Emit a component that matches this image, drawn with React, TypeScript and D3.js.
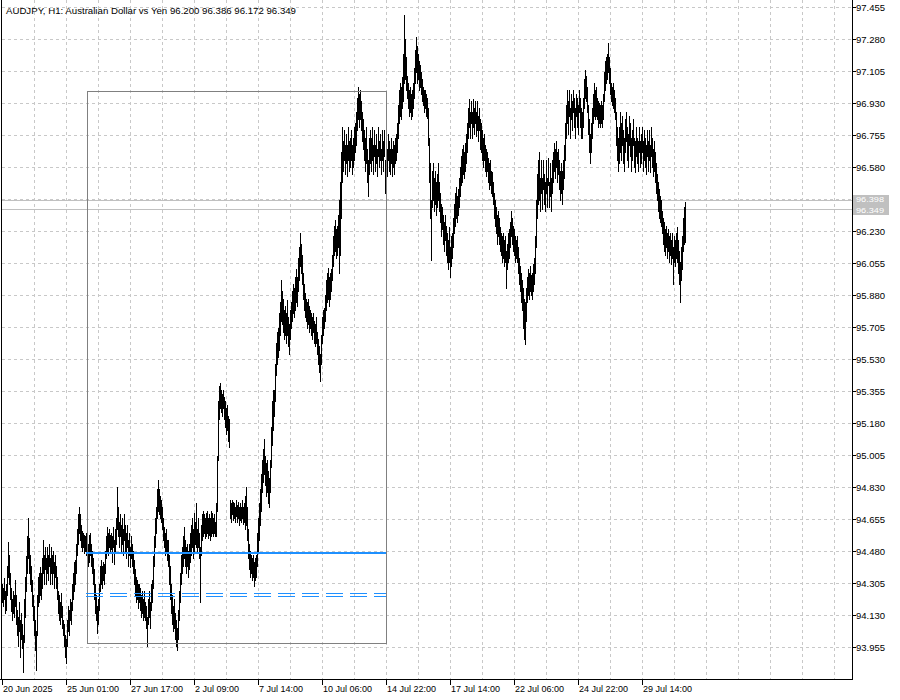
import React from "react";
import * as d3 from "d3";

// AUDJPY H1 bars, one per hour, left to right
const lows: number[] = [
94.20,94.18,94.22,94.14,94.16,94.24,94.34,94.30,94.22,94.15,
94.10,94.14,94.12,94.18,94.08,94.02,93.96,94.04,93.90,94.00,
93.95,93.82,93.98,94.12,94.26,94.36,94.44,94.36,94.30,94.26,
94.18,94.10,94.02,93.94,93.83,94.02,94.18,94.20,94.24,94.22,
94.28,94.36,94.30,94.38,94.30,94.36,94.32,94.40,94.30,94.36,
94.30,94.36,94.28,94.34,94.28,94.22,94.14,94.10,94.08,94.12,
94.06,94.02,93.96,93.90,93.87,93.96,94.04,94.02,94.10,94.08,
94.16,94.22,94.26,94.30,94.36,94.46,94.52,94.58,94.54,94.50,
94.48,94.50,94.47,94.48,94.46,94.44,94.40,94.42,94.46,94.40,
94.36,94.30,94.22,94.14,94.10,94.03,94.08,94.16,94.26,94.30,
94.28,94.32,94.30,94.36,94.44,94.48,94.46,94.50,94.47,94.49,
94.42,94.50,94.41,94.48,94.52,94.60,94.56,94.50,94.56,94.48,
94.52,94.46,94.54,94.48,94.44,94.50,94.40,94.46,94.39,94.44,
94.40,94.36,94.30,94.24,94.20,94.22,94.17,94.20,94.16,94.12,
94.14,94.10,94.12,94.10,94.06,93.96,94.08,94.12,94.06,94.16,
94.20,94.28,94.40,94.50,94.58,94.66,94.70,94.68,94.66,94.64,
94.60,94.54,94.50,94.46,94.48,94.43,94.40,94.30,94.22,94.14,
94.08,94.04,94.06,94.00,93.96,93.94,94.00,94.10,94.20,94.30,
94.36,94.40,94.44,94.40,94.36,94.40,94.34,94.38,94.42,94.46,
94.50,94.44,94.48,94.52,94.50,94.48,94.50,94.44,94.20,94.46,
94.54,94.56,94.58,94.55,94.56,94.58,94.55,94.57,94.54,94.56,
94.58,94.56,94.58,94.56,94.56,94.70,94.98,95.20,95.26,95.24,
95.22,95.26,95.20,95.16,95.12,95.14,95.08,95.05,94.66,94.64,
94.68,94.65,94.66,94.64,94.67,94.64,94.66,94.62,94.65,94.64,
94.66,94.63,94.64,94.60,94.62,94.54,94.44,94.38,94.34,94.36,
94.32,94.34,94.29,94.32,94.34,94.40,94.48,94.54,94.62,94.70,
94.80,94.86,94.90,94.84,94.78,94.80,94.74,94.72,94.80,94.94,
95.06,95.14,95.22,95.30,95.44,95.50,95.54,95.58,95.66,95.74,
95.72,95.68,95.64,95.66,95.62,95.66,95.60,95.56,95.64,95.70,
95.74,95.78,95.76,95.80,95.84,95.82,95.90,95.96,96.04,96.00,
95.94,95.86,95.80,95.76,95.74,95.70,95.72,95.68,95.70,95.66,
95.64,95.68,95.62,95.60,95.62,95.56,95.50,95.46,95.41,95.50,
95.62,95.66,95.70,95.74,95.80,95.84,95.86,95.82,95.86,95.90,
95.96,96.04,96.10,96.12,96.08,96.10,96.14,96.00,96.10,96.30,
96.50,96.56,96.62,96.54,96.60,96.53,96.62,96.56,96.58,96.62,
96.54,96.58,96.62,96.66,96.70,96.78,96.84,96.80,96.84,96.78,
96.72,96.68,96.62,96.56,96.60,96.50,96.42,96.54,96.60,96.56,
96.62,96.54,96.64,96.56,96.60,96.53,96.64,96.58,96.62,96.54,
96.62,96.56,96.64,96.44,96.60,96.53,96.62,96.56,96.54,96.60,
96.53,96.58,96.54,96.60,96.62,96.66,96.74,96.82,96.86,96.84,
96.90,96.94,97.04,97.06,97.00,96.96,96.90,96.86,96.88,96.84,
96.86,96.90,96.96,97.04,97.10,97.04,97.06,97.00,97.02,96.98,
96.94,96.92,96.88,96.90,96.86,96.85,96.70,96.50,96.30,96.07,
96.36,96.40,96.34,96.38,96.32,96.36,96.40,96.34,96.28,96.20,
96.24,96.16,96.12,96.18,96.10,96.06,96.02,96.06,95.98,96.04,
96.08,96.14,96.22,96.26,96.30,96.28,96.32,96.36,96.42,96.48,
96.50,96.54,96.52,96.56,96.60,96.66,96.74,96.80,96.74,96.82,
96.74,96.80,96.76,96.82,96.75,96.78,96.72,96.78,96.68,96.66,
96.62,96.58,96.62,96.56,96.53,96.56,96.50,96.46,96.48,96.44,
96.42,96.38,96.30,96.26,96.22,96.16,96.20,96.16,96.12,96.10,
96.06,96.08,96.04,96.06,95.92,96.02,96.06,96.08,96.14,96.20,
96.16,96.12,96.10,96.06,96.08,96.06,96.00,95.94,95.90,95.84,
95.80,95.70,95.64,95.61,95.74,95.84,95.88,95.86,95.90,95.88,
95.86,95.90,95.94,96.00,96.14,96.30,96.38,96.40,96.34,96.44,
96.35,96.46,96.38,96.34,96.44,96.36,96.48,96.36,96.42,96.34,
96.44,96.50,96.56,96.52,96.58,96.50,96.54,96.46,96.40,96.44,
96.38,96.46,96.52,96.62,96.74,96.82,96.76,96.86,96.74,96.84,
96.78,96.88,96.80,96.74,96.86,96.80,96.76,96.88,96.80,96.74,
96.74,96.80,96.90,96.96,96.94,96.88,96.76,96.66,96.60,96.66,
96.74,96.82,96.86,96.84,96.86,96.84,96.80,96.82,96.80,96.82,
96.80,96.84,96.94,97.00,97.04,97.06,97.10,97.04,96.98,96.94,
96.92,96.90,96.88,96.84,96.70,96.62,96.56,96.60,96.66,96.62,
96.70,96.60,96.56,96.66,96.72,96.62,96.58,96.70,96.64,96.56,
96.62,96.70,96.58,96.55,96.64,96.60,96.56,96.66,96.58,96.60,
96.66,96.56,96.62,96.58,96.54,96.64,96.56,96.62,96.55,96.64,
96.58,96.53,96.56,96.50,96.44,96.40,96.34,96.30,96.28,96.26,
96.22,96.16,96.12,96.10,96.14,96.08,96.12,96.06,96.10,96.05,
96.08,95.94,96.06,96.04,96.08,96.06,96.00,95.94,95.84,95.96,
96.02,96.12,96.16,96.172
];

const highs: number[] = [
94.30,94.28,94.33,94.26,94.30,94.40,94.53,94.46,94.36,94.28,
94.22,94.26,94.24,94.32,94.24,94.16,94.12,94.20,94.10,94.14,
94.08,94.02,94.22,94.34,94.45,94.56,94.66,94.55,94.46,94.40,
94.32,94.24,94.18,94.10,94.04,94.24,94.34,94.36,94.39,94.36,
94.44,94.54,94.46,94.50,94.44,94.50,94.46,94.52,94.44,94.50,
94.46,94.48,94.42,94.46,94.40,94.34,94.26,94.24,94.20,94.25,
94.18,94.10,94.08,94.02,94.00,94.10,94.18,94.16,94.22,94.20,
94.30,94.36,94.42,94.43,94.52,94.60,94.68,94.72,94.68,94.62,
94.59,94.58,94.57,94.56,94.58,94.55,94.52,94.57,94.58,94.52,
94.48,94.44,94.38,94.30,94.24,94.18,94.22,94.30,94.40,94.43,
94.40,94.42,94.41,94.48,94.56,94.61,94.58,94.60,94.57,94.58,
94.56,94.61,94.54,94.60,94.66,94.83,94.72,94.64,94.68,94.62,
94.66,94.60,94.68,94.62,94.58,94.62,94.54,94.58,94.50,94.56,
94.52,94.48,94.43,94.38,94.34,94.32,94.30,94.30,94.28,94.24,
94.26,94.22,94.26,94.20,94.18,94.12,94.22,94.26,94.20,94.30,
94.32,94.45,94.56,94.66,94.72,94.82,94.87,94.82,94.78,94.76,
94.72,94.66,94.61,94.58,94.60,94.54,94.54,94.46,94.40,94.30,
94.24,94.18,94.22,94.14,94.10,94.06,94.16,94.26,94.36,94.46,
94.50,94.56,94.61,94.54,94.50,94.52,94.48,94.52,94.58,94.62,
94.66,94.60,94.69,94.64,94.74,94.60,94.66,94.58,94.50,94.62,
94.68,94.70,94.68,94.66,94.69,94.70,94.66,94.68,94.66,94.70,
94.69,94.66,94.68,94.64,94.74,95.00,95.30,95.38,95.40,95.36,
95.34,95.36,95.32,95.30,95.26,95.28,95.22,95.20,94.76,94.74,
94.76,94.75,94.74,94.72,94.76,94.73,94.75,94.72,94.74,94.72,
94.76,94.72,94.74,94.78,94.83,94.72,94.60,94.52,94.48,94.46,
94.44,94.46,94.42,94.44,94.46,94.58,94.66,94.74,94.82,94.90,
94.98,95.04,95.09,95.00,94.96,94.98,94.92,94.88,94.98,95.16,
95.30,95.36,95.36,95.50,95.62,95.68,95.70,95.78,95.84,95.96,
95.90,95.86,95.80,95.82,95.78,95.85,95.76,95.72,95.80,95.84,
95.90,95.94,95.92,95.98,96.02,95.98,96.08,96.14,96.22,96.16,
96.10,96.00,95.94,95.89,95.86,95.84,95.86,95.82,95.80,95.78,
95.76,95.78,95.74,95.72,95.76,95.68,95.64,95.60,95.56,95.66,
95.76,95.80,95.81,95.88,95.96,96.00,96.03,95.98,96.00,96.02,
96.10,96.20,96.26,96.29,96.24,96.26,96.32,96.40,96.50,96.66,
96.80,96.72,96.78,96.70,96.76,96.70,96.80,96.72,96.74,96.78,
96.70,96.74,96.80,96.82,96.88,96.96,97.02,96.98,97.00,96.94,
96.88,96.84,96.78,96.74,96.80,96.68,96.62,96.74,96.78,96.74,
96.80,96.70,96.78,96.70,96.76,96.68,96.80,96.72,96.76,96.68,
96.78,96.72,96.78,96.62,96.74,96.68,96.76,96.72,96.68,96.74,
96.68,96.72,96.70,96.74,96.76,96.82,96.92,97.00,97.04,97.02,
97.07,97.20,97.41,97.28,97.18,97.08,97.04,97.00,97.02,96.98,
97.00,97.04,97.12,97.22,97.29,97.24,97.20,97.16,97.14,97.10,
97.06,97.02,97.00,97.00,96.98,96.96,96.90,96.74,96.60,96.40,
96.56,96.60,96.52,96.56,96.50,96.54,96.60,96.50,96.44,96.38,
96.36,96.32,96.28,96.32,96.26,96.22,96.18,96.25,96.14,96.20,
96.22,96.30,96.38,96.44,96.47,96.42,96.46,96.52,96.58,96.64,
96.68,96.70,96.66,96.71,96.76,96.82,96.90,96.95,96.88,96.94,
96.88,96.95,96.90,96.94,96.88,96.94,96.86,96.90,96.84,96.82,
96.78,96.74,96.76,96.70,96.68,96.66,96.63,96.60,96.62,96.56,
96.55,96.50,96.44,96.40,96.36,96.32,96.34,96.30,96.25,96.22,
96.20,96.22,96.18,96.20,96.12,96.16,96.22,96.24,96.28,96.34,
96.30,96.26,96.24,96.20,96.18,96.20,96.14,96.08,96.04,96.00,
95.96,95.92,95.86,95.84,95.92,95.98,96.02,96.00,96.04,95.99,
96.00,96.05,96.08,96.20,96.40,96.54,96.62,96.66,96.52,96.62,
96.52,96.62,96.54,96.50,96.62,96.52,96.63,96.50,96.60,96.52,
96.62,96.66,96.71,96.68,96.72,96.66,96.68,96.62,96.56,96.60,
96.56,96.62,96.70,96.82,96.92,97.00,96.94,97.00,96.90,96.98,
96.94,97.00,96.96,96.90,96.98,96.96,96.92,97.00,96.96,96.90,
96.88,96.96,97.06,97.11,97.08,97.02,96.92,96.84,96.76,96.82,
96.90,96.98,97.04,97.00,97.02,96.96,96.94,96.93,96.92,96.94,
96.92,96.98,97.10,97.16,97.18,97.20,97.26,97.18,97.12,97.04,
97.02,97.04,97.00,96.96,96.88,96.80,96.74,96.80,96.88,96.82,
96.86,96.78,96.74,96.84,96.88,96.80,96.76,96.86,96.82,96.74,
96.78,96.84,96.74,96.72,96.80,96.74,96.72,96.80,96.72,96.76,
96.80,96.72,96.78,96.74,96.70,96.78,96.72,96.78,96.70,96.80,
96.74,96.68,96.72,96.66,96.60,96.54,96.50,96.46,96.42,96.40,
96.34,96.30,96.28,96.24,96.26,96.22,96.24,96.20,96.22,96.18,
96.22,96.14,96.20,96.18,96.22,96.25,96.18,96.12,96.06,96.14,
96.20,96.30,96.36,96.386
];

const yTicks: number[] = [
  97.455, 97.28, 97.105, 96.93, 96.755, 96.58, 96.405, 96.23, 96.055, 95.88, 95.705,
  95.53, 95.355, 95.18, 95.005, 94.83, 94.655, 94.48, 94.305, 94.13, 93.955,
];
const xTickBars: number[] = [0, 64, 128, 192, 256, 320, 384, 448, 512, 576, 640];
const xTickLabels: string[] = [
  "20 Jun 2025", "25 Jun 01:00", "27 Jun 17:00", "2 Jul 09:00", "7 Jul 14:00",
  "10 Jul 06:00", "14 Jul 22:00", "17 Jul 14:00", "22 Jul 06:00", "24 Jul 22:00", "29 Jul 14:00",
];
const titleText = "AUDJPY, H1:  Australian Dollar vs Yen  96.200 96.386 96.172 96.349";
const askPrice = 96.398;
const bidPrice = 96.349;
// rectangle object: [startBar, endBar], [topPrice, bottomPrice]
const boxBars: number[] = [84, 383];
const boxPrices: number[] = [96.995, 93.978];
// horizontal level lines over the same bar span
const solidLevel = 94.471;
const dashedLevels: number[] = [94.2476, 94.2312];

const W = 900;
const H = 700;
const plotRight = 852;
const plotBottom = 679;

export default function App() {
  const y = d3.scaleLinear().domain([93.955, 97.455]).range([647, 7]);
  const x = d3.scaleLinear().domain([0, 1]).range([2.5, 3.5]);
  const font = "'Liberation Sans', Arial, sans-serif";

  const barPath = highs
    .map((h, i) => {
      const cx = x(i);
      const top = Math.round(y(h));
      const bot = Math.round(y(lows[i]));
      return `M${cx},${top}V${Math.max(bot, top + 1) + 1}`;
    })
    .join("");

  const vGrid: number[] = [];
  for (let b = 32; x(b) < plotRight; b += 32) vGrid.push(b);

  const box = {
    x1: Math.round(x(boxBars[0])),
    x2: Math.round(x(boxBars[1])),
    y1: Math.round(y(boxPrices[0])) + 0.5,
    y2: Math.round(y(boxPrices[1])) + 0.5,
  };

  const askY = Math.round(y(askPrice));
  const bidY = Math.round(y(bidPrice));
  // tick labels hidden behind the price labels, as in the terminal
  const visibleLabels = yTicks.filter((t) => {
    const ty = Math.round(y(t));
    return !(ty > askY - 11 && ty < bidY + 11);
  });

  return (
    <svg width={W} height={H} style={{ display: "block", position: "absolute", left: 0, top: 0, background: "#fff" }}>
      <rect x={0} y={0} width={W} height={H} fill="#fff" />
      {/* grid */}
      <g stroke="#c8c8c8" strokeWidth={1} strokeDasharray="3,3" shapeRendering="crispEdges">
        {yTicks.map((t) => (
          <line key={"h" + t} x1={2} x2={plotRight} y1={Math.round(y(t)) + 0.5} y2={Math.round(y(t)) + 0.5} />
        ))}
        {vGrid.map((b) => (
          <line key={"v" + b} x1={x(b)} x2={x(b)} y1={0} y2={plotBottom} />
        ))}
      </g>
      {/* bid / ask lines */}
      <g stroke="#c0c0c0" strokeWidth={1} shapeRendering="crispEdges">
        <line x1={2} x2={plotRight} y1={askY + 0.5} y2={askY + 0.5} />
        <line x1={2} x2={plotRight} y1={bidY + 0.5} y2={bidY + 0.5} />
      </g>
      {/* bars */}
      <path d={barPath} stroke="#000" strokeWidth={1} fill="none" shapeRendering="crispEdges" />
      {/* rectangle object */}
      <rect
        x={box.x1}
        y={box.y1}
        width={box.x2 - box.x1}
        height={box.y2 - box.y1}
        fill="none"
        stroke="#808080"
        strokeWidth={1}
        shapeRendering="crispEdges"
      />
      {/* level lines */}
      <line
        x1={x(boxBars[0]) - 0.5}
        x2={x(boxBars[1]) + 0.5}
        y1={y(solidLevel)}
        y2={y(solidLevel)}
        stroke="#1e90ff"
        strokeWidth={2}
        shapeRendering="crispEdges"
      />
      {dashedLevels.map((lv) => (
        <line
          key={"d" + lv}
          x1={x(boxBars[0]) - 0.5}
          x2={x(boxBars[1]) + 0.5}
          y1={Math.round(y(lv)) + 0.5}
          y2={Math.round(y(lv)) + 0.5}
          stroke="#1e90ff"
          strokeWidth={1}
          strokeDasharray="17,7"
          shapeRendering="crispEdges"
        />
      ))}
      {/* frame */}
      <g stroke="#000" strokeWidth={1} shapeRendering="crispEdges">
        <line x1={1.5} x2={1.5} y1={0} y2={plotBottom + 0.5} />
        <line x1={plotRight + 0.5} x2={plotRight + 0.5} y1={0} y2={plotBottom + 1} />
        <line x1={0} x2={plotRight + 1} y1={plotBottom + 0.5} y2={plotBottom + 0.5} />
        {yTicks.map((t) => (
          <line key={"yt" + t} x1={plotRight} x2={plotRight + 4} y1={Math.round(y(t)) + 0.5} y2={Math.round(y(t)) + 0.5} />
        ))}
        {xTickBars.map((b) => (
          <line key={"xt" + b} x1={x(b)} x2={x(b)} y1={plotBottom} y2={plotBottom + 6} />
        ))}
      </g>
      {/* y labels */}
      <g fontFamily={font} fontSize={9.5} fill="#000">
        {visibleLabels.map((t) => (
          <text key={"yl" + t} x={856} y={Math.round(y(t)) + 3.5}>
            {t.toFixed(3)}
          </text>
        ))}
      </g>
      {/* x labels */}
      <g fontFamily={font} fontSize={9} fill="#000">
        {xTickBars.map((b, i) => (
          <text key={"xl" + b} x={x(b) + 0.5} y={692}>
            {xTickLabels[i]}
          </text>
        ))}
      </g>
      {/* price labels */}
      <g fontFamily={font} fontSize={8}>
        <rect x={853} y={askY - 5} width={36} height={10} fill="#c0c0c0" />
        <rect x={853} y={bidY - 5} width={36} height={11} fill="#c0c0c0" />
        <text x={856} y={askY + 2} fill="#fff" textLength={28} lengthAdjust="spacingAndGlyphs">
          {askPrice.toFixed(3)}
        </text>
        <text x={856} y={bidY + 3.5} fill="#fff" textLength={28} lengthAdjust="spacingAndGlyphs">
          {bidPrice.toFixed(3)}
        </text>
      </g>
      {/* title */}
      <text x={6} y={14} fontFamily={font} fontSize={9.5} fill="#000" textLength={290} lengthAdjust="spacingAndGlyphs">
        {titleText}
      </text>
    </svg>
  );
}
